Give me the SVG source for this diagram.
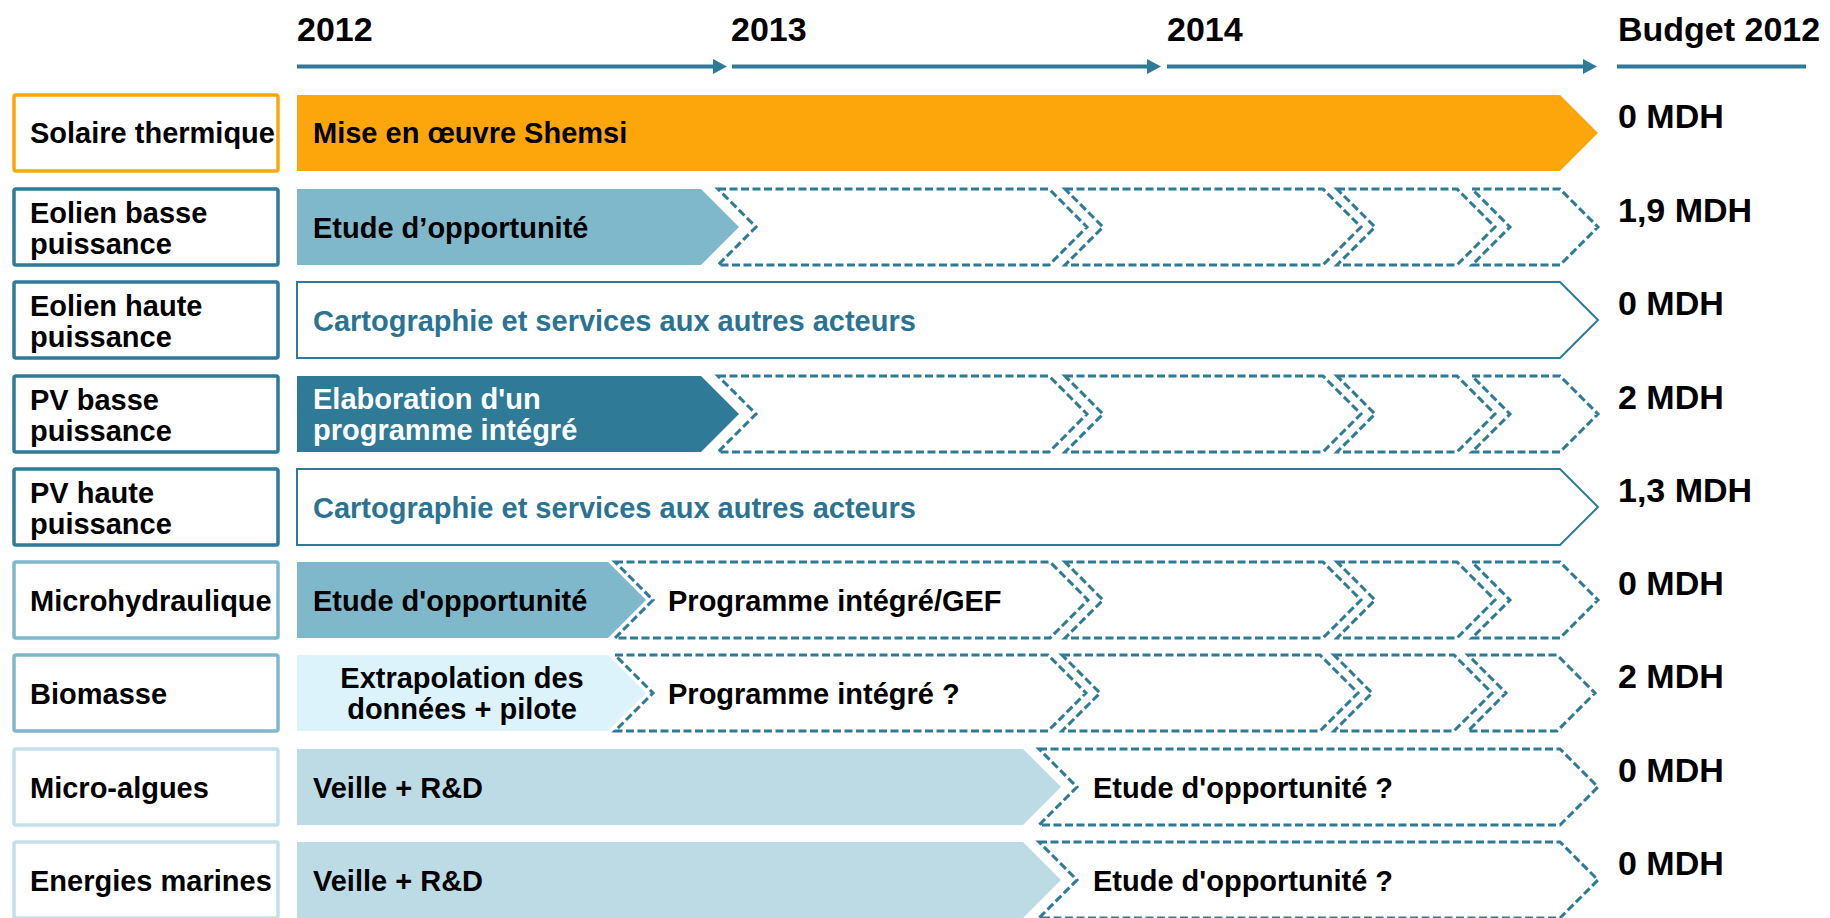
<svg xmlns="http://www.w3.org/2000/svg" width="1830" height="918" viewBox="0 0 1830 918">
<defs>
<style>
text { font-family: "Liberation Sans", Arial, sans-serif; font-weight: bold; font-size: 29px; fill: #000; }
.big { font-size: 34px; }
.white { fill: #fff; }
.tealtxt { fill: #2B7393; }
.mid { text-anchor: middle; }
.box { fill: #fff; stroke-width: 3.5; }
.b-orange { stroke: #FDA60C; }
.b-dark { stroke: #2E7A97; }
.b-mid { stroke: #7FB8CB; }
.b-light { stroke: #C4E1E9; }
.orange { fill: #FDA60C; }
.dark { fill: #2E7A97; }
.mid-blue { fill: #7FB8CB; }
.pale { fill: #DDF3FC; }
.grey-blue { fill: #BDDBE5; }
.outline { fill: #fff; stroke: #2E7A97; stroke-width: 2; }
.dash { fill: #fff; stroke: #2E7A97; stroke-width: 3; stroke-dasharray: 8 3.5; }
.tl { stroke: #2E7A97; stroke-width: 4; fill: none; }
</style>
<marker id="ah" viewBox="0 0 14 15" refX="0" refY="7.5" markerWidth="14" markerHeight="15" markerUnits="userSpaceOnUse" orient="auto">
<path d="M0,0 L14,7.5 L0,15 Z" fill="#2E7A97"/>
</marker>
</defs>
<rect width="1830" height="918" fill="#fff"/>

<g id="header">
<text class="big" x="297" y="41">2012</text>
<text class="big" x="731" y="41">2013</text>
<text class="big" x="1167" y="41">2014</text>
<text class="big" x="1618" y="41">Budget 2012</text>
</g>

<g id="connectors">
<line class="tl" x1="297" y1="66.5" x2="713" y2="66.5" marker-end="url(#ah)"/>
<line class="tl" x1="732" y1="66.5" x2="1147" y2="66.5" marker-end="url(#ah)"/>
<line class="tl" x1="1167" y1="66.5" x2="1583" y2="66.5" marker-end="url(#ah)"/>
<line class="tl" x1="1617" y1="66.5" x2="1806" y2="66.5"/>
</g>

<g id="row-solaire">
<rect class="box b-orange" x="14" y="95" width="264" height="76" rx="2"/>
<text x="30" y="143">Solaire thermique</text>
<path class="orange" d="M297,95 L1560,95 L1598,133 L1560,171 L297,171 Z"/>
<text x="313" y="143">Mise en œuvre Shemsi</text>
<text class="big" x="1618" y="128">0 MDH</text>
</g>

<g id="row-eolien-basse">
<rect class="box b-dark" x="14" y="189" width="264" height="76" rx="2"/>
<text x="30" y="223">Eolien basse</text>
<text x="30" y="254">puissance</text>
<path class="mid-blue" d="M297,189 L701,189 L739,227 L701,265 L297,265 Z"/>
<path class="dash" d="M718,189 L1049,189 L1087,227 L1049,265 L718,265 L756,227 Z"/>
<path class="dash" d="M1065,189 L1323,189 L1361,227 L1323,265 L1065,265 L1103,227 Z"/>
<path class="dash" d="M1337,189 L1457,189 L1495,227 L1457,265 L1337,265 L1375,227 Z"/>
<path class="dash" d="M1472,189 L1560,189 L1598,227 L1560,265 L1472,265 L1510,227 Z"/>
<text x="313" y="238">Etude d’opportunité</text>
<text class="big" x="1618" y="222">1,9 MDH</text>
</g>

<g id="row-eolien-haute">
<rect class="box b-dark" x="14" y="282" width="264" height="76" rx="2"/>
<text x="30" y="316">Eolien haute</text>
<text x="30" y="347">puissance</text>
<path class="outline" d="M297,282 L1560,282 L1598,320 L1560,358 L297,358 Z"/>
<text class="tealtxt" x="313" y="331">Cartographie et services aux autres acteurs</text>
<text class="big" x="1618" y="315">0 MDH</text>
</g>

<g id="row-pv-basse">
<rect class="box b-dark" x="14" y="376" width="264" height="76" rx="2"/>
<text x="30" y="410">PV basse</text>
<text x="30" y="441">puissance</text>
<path class="dark" d="M297,376 L701,376 L739,414 L701,452 L297,452 Z"/>
<path class="dash" d="M718,376 L1049,376 L1087,414 L1049,452 L718,452 L756,414 Z"/>
<path class="dash" d="M1065,376 L1323,376 L1361,414 L1323,452 L1065,452 L1103,414 Z"/>
<path class="dash" d="M1337,376 L1457,376 L1495,414 L1457,452 L1337,452 L1375,414 Z"/>
<path class="dash" d="M1472,376 L1560,376 L1598,414 L1560,452 L1472,452 L1510,414 Z"/>
<text class="white" x="313" y="409">Elaboration d'un</text>
<text class="white" x="313" y="440">programme intégré</text>
<text class="big" x="1618" y="409">2 MDH</text>
</g>

<g id="row-pv-haute">
<rect class="box b-dark" x="14" y="469" width="264" height="76" rx="2"/>
<text x="30" y="503">PV haute</text>
<text x="30" y="534">puissance</text>
<path class="outline" d="M297,469 L1560,469 L1598,507 L1560,545 L297,545 Z"/>
<text class="tealtxt" x="313" y="518">Cartographie et services aux autres acteurs</text>
<text class="big" x="1618" y="502">1,3 MDH</text>
</g>

<g id="row-microhydraulique">
<rect class="box b-mid" x="14" y="562" width="264" height="76" rx="2"/>
<text x="30" y="611">Microhydraulique</text>
<path class="mid-blue" d="M297,562 L608,562 L646,600 L608,638 L297,638 Z"/>
<path class="dash" d="M615,562 L1050,562 L1088,600 L1050,638 L615,638 L653,600 Z"/>
<path class="dash" d="M1065,562 L1323,562 L1361,600 L1323,638 L1065,638 L1103,600 Z"/>
<path class="dash" d="M1337,562 L1457,562 L1495,600 L1457,638 L1337,638 L1375,600 Z"/>
<path class="dash" d="M1472,562 L1560,562 L1598,600 L1560,638 L1472,638 L1510,600 Z"/>
<text x="313" y="611">Etude d'opportunité</text>
<text x="668" y="611">Programme intégré/GEF</text>
<text class="big" x="1618" y="595">0 MDH</text>
</g>

<g id="row-biomasse">
<rect class="box b-mid" x="14" y="655" width="264" height="76" rx="2"/>
<text x="30" y="704">Biomasse</text>
<path class="pale" d="M297,655 L608,655 L646,693 L608,731 L297,731 Z"/>
<path class="dash" d="M615,655 L1048,655 L1086,693 L1048,731 L615,731 L653,693 Z"/>
<path class="dash" d="M1062,655 L1320,655 L1358,693 L1320,731 L1062,731 L1100,693 Z"/>
<path class="dash" d="M1334,655 L1454,655 L1492,693 L1454,731 L1334,731 L1372,693 Z"/>
<path class="dash" d="M1468,655 L1557,655 L1595,693 L1557,731 L1468,731 L1506,693 Z"/>
<text class="mid" x="462" y="688">Extrapolation des</text>
<text class="mid" x="462" y="719">données + pilote</text>
<text x="668" y="704">Programme intégré ?</text>
<text class="big" x="1618" y="688">2 MDH</text>
</g>

<g id="row-micro-algues">
<rect class="box b-light" x="14" y="749" width="264" height="76" rx="2"/>
<text x="30" y="798">Micro-algues</text>
<path class="grey-blue" d="M297,749 L1023,749 L1061,787 L1023,825 L297,825 Z"/>
<path class="dash" d="M1039,749 L1560,749 L1598,787 L1560,825 L1039,825 L1077,787 Z"/>
<text x="313" y="798">Veille + R&amp;D</text>
<text x="1093" y="798">Etude d'opportunité ?</text>
<text class="big" x="1618" y="782">0 MDH</text>
</g>

<g id="row-energies-marines">
<rect class="box b-light" x="14" y="842" width="264" height="76" rx="2"/>
<text x="30" y="891">Energies marines</text>
<path class="grey-blue" d="M297,842 L1023,842 L1061,880 L1023,918 L297,918 Z"/>
<path class="dash" d="M1039,842 L1560,842 L1598,880 L1560,918 L1039,918 L1077,880 Z"/>
<text x="313" y="891">Veille + R&amp;D</text>
<text x="1093" y="891">Etude d'opportunité ?</text>
<text class="big" x="1618" y="875">0 MDH</text>
</g>
</svg>
